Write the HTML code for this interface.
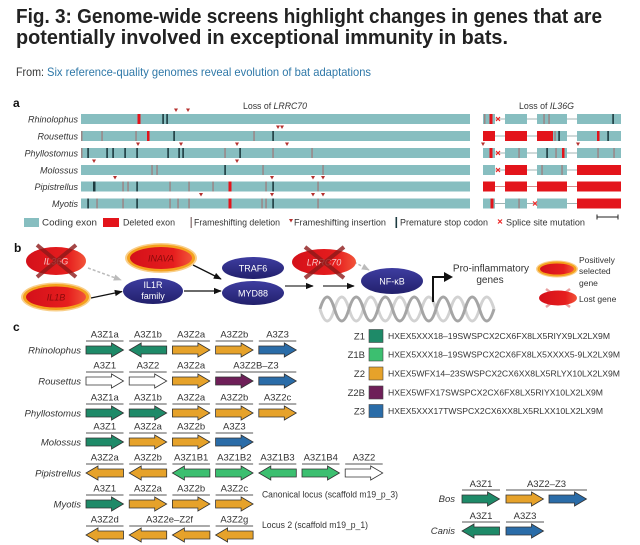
<!DOCTYPE html>
<html><head><meta charset="utf-8"><style>
html,body{margin:0;padding:0;background:#fff;}
svg{display:block;}
text{font-family:"Liberation Sans",Arial,sans-serif;}
</style></head><body>
<svg width="640" height="545" viewBox="0 0 640 545" xmlns="http://www.w3.org/2000/svg">
<defs>
<linearGradient id="rg" x1="0" x2="1" y1="0" y2="0"><stop offset="0" stop-color="#d4101a"/><stop offset="0.7" stop-color="#e61e1e"/><stop offset="1" stop-color="#f2553a"/></linearGradient>
<linearGradient id="bg" x1="0" y1="0" x2="0" y2="1"><stop offset="0" stop-color="#3e3da0"/><stop offset="1" stop-color="#22206c"/></linearGradient>
<marker id="mk" viewBox="0 0 10 10" refX="9" refY="5" markerWidth="8" markerHeight="8" orient="auto" markerUnits="userSpaceOnUse"><path d="M0,1L10,5L0,9Z" fill="#111"/></marker>
<marker id="mg" viewBox="0 0 10 10" refX="9" refY="5" markerWidth="8" markerHeight="8" orient="auto" markerUnits="userSpaceOnUse"><path d="M0,1L10,5L0,9Z" fill="#bbb"/></marker>
<path id="ar" d="M0,-4H25.5V-7L37.5,0L25.5,7V4H0Z" stroke="#333" stroke-width="0.8"/>
<path id="al" d="M37.5,-4H12V-7L0,0L12,7V4H37.5Z" stroke="#333" stroke-width="0.8"/>
</defs>
<rect width="640" height="545" fill="#fff"/>

<!-- Title -->
<text x="16" y="23" font-size="20" font-weight="bold" fill="#222" textLength="586" lengthAdjust="spacingAndGlyphs">Fig. 3: Genome-wide screens highlight changes in genes that are</text>
<text x="16" y="44" font-size="20" font-weight="bold" fill="#222" textLength="492" lengthAdjust="spacingAndGlyphs">potentially involved in exceptional immunity in bats.</text>
<text x="16" y="76" font-size="12" fill="#333" textLength="28" lengthAdjust="spacingAndGlyphs">From:</text>
<text x="47" y="76" font-size="12" fill="#2f78a8" textLength="324" lengthAdjust="spacingAndGlyphs">Six reference-quality genomes reveal evolution of bat adaptations</text>

<!-- Panel a -->
<text x="13" y="107" font-size="12" font-weight="bold" fill="#111">a</text>
<text x="243" y="109" font-size="9" fill="#333" textLength="64" lengthAdjust="spacingAndGlyphs">Loss of <tspan font-style="italic">LRRC70</tspan></text>
<text x="519" y="109" font-size="9" fill="#333" textLength="55" lengthAdjust="spacingAndGlyphs">Loss of <tspan font-style="italic">IL36G</tspan></text>

<g font-size="9" font-style="italic" fill="#333" text-anchor="end">
<text x="78" y="122.5">Rhinolophus</text>
<text x="78" y="139.5">Rousettus</text>
<text x="78" y="156.5">Phyllostomus</text>
<text x="78" y="173.5">Molossus</text>
<text x="78" y="190">Pipistrellus</text>
<text x="78" y="207">Myotis</text>
</g>

<!-- LRRC70 bars -->
<g fill="#87bec0">
<rect x="81" y="114" width="389" height="10"/>
<rect x="81" y="131" width="389" height="10"/>
<rect x="81" y="148" width="389" height="10"/>
<rect x="81" y="165" width="389" height="10"/>
<rect x="81" y="181.5" width="389" height="10"/>
<rect x="81" y="198.5" width="389" height="10"/>
</g>
<!-- IL36G introns -->
<g stroke="#9fb3b3" stroke-width="1">
<line x1="495" y1="119" x2="577" y2="119"/>
<line x1="495" y1="136" x2="577" y2="136"/>
<line x1="495" y1="153" x2="577" y2="153"/>
<line x1="495" y1="170" x2="577" y2="170"/>
<line x1="495" y1="186.5" x2="577" y2="186.5" stroke="#d88"/>
<line x1="495" y1="203.5" x2="577" y2="203.5"/>
</g>
<!-- IL36G exons -->
<g>
<!-- row0 -->
<rect x="483" y="114" width="12" height="10" fill="#87bec0"/><rect x="505" y="114" width="22" height="10" fill="#87bec0"/><rect x="537" y="114" width="30" height="10" fill="#87bec0"/><rect x="577" y="114" width="44" height="10" fill="#87bec0"/>
<!-- row1 -->
<rect x="483" y="131" width="12" height="10" fill="#e3141b"/><rect x="505" y="131" width="22" height="10" fill="#e3141b"/><rect x="537" y="131" width="16" height="10" fill="#e3141b"/><rect x="553" y="131" width="14" height="10" fill="#87bec0"/><rect x="577" y="131" width="44" height="10" fill="#87bec0"/>
<!-- row2 -->
<rect x="483" y="148" width="12" height="10" fill="#87bec0"/><rect x="505" y="148" width="22" height="10" fill="#87bec0"/><rect x="537" y="148" width="30" height="10" fill="#87bec0"/><rect x="577" y="148" width="44" height="10" fill="#87bec0"/>
<!-- row3 -->
<rect x="483" y="165" width="12" height="10" fill="#87bec0"/><rect x="505" y="165" width="22" height="10" fill="#e3141b"/><rect x="537" y="165" width="30" height="10" fill="#87bec0"/><rect x="577" y="165" width="44" height="10" fill="#e3141b"/>
<!-- row4 -->
<rect x="483" y="181.5" width="12" height="10" fill="#e3141b"/><rect x="505" y="181.5" width="22" height="10" fill="#e3141b"/><rect x="537" y="181.5" width="30" height="10" fill="#e3141b"/><rect x="577" y="181.5" width="44" height="10" fill="#e3141b"/>
<!-- row5 -->
<rect x="483" y="198.5" width="12" height="10" fill="#87bec0"/><rect x="505" y="198.5" width="22" height="10" fill="#87bec0"/><rect x="537" y="198.5" width="30" height="10" fill="#87bec0"/><rect x="577" y="198.5" width="44" height="10" fill="#e3141b"/>
</g>

<!-- marks: gray frameshift deletions -->
<g fill="#9a8686">
<rect x="81" y="131" width="1.5" height="10"/><rect x="101.3" y="131" width="1.5" height="10"/><rect x="135.3" y="131" width="1.5" height="10"/><rect x="253.3" y="131" width="1.5" height="10"/>
<rect x="81" y="148" width="1.5" height="10"/><rect x="224.3" y="148" width="1.5" height="10"/><rect x="272.3" y="148" width="1.5" height="10"/><rect x="311.3" y="148" width="1.5" height="10"/>
<rect x="151.3" y="165" width="1.5" height="10"/><rect x="156.3" y="165" width="1.5" height="10"/><rect x="262.3" y="165" width="1.5" height="10"/><rect x="322.3" y="165" width="1.5" height="10"/>
<rect x="122.3" y="181.5" width="1.5" height="10"/><rect x="127.3" y="181.5" width="1.5" height="10"/><rect x="169.3" y="181.5" width="1.5" height="10"/><rect x="188.3" y="181.5" width="1.5" height="10"/><rect x="212.3" y="181.5" width="1.5" height="10"/><rect x="265.3" y="181.5" width="1.5" height="10"/><rect x="317.3" y="181.5" width="1.5" height="10"/>
<rect x="96.3" y="198.5" width="1.5" height="10"/><rect x="122.3" y="198.5" width="1.5" height="10"/><rect x="169.3" y="198.5" width="1.5" height="10"/><rect x="177.3" y="198.5" width="1.5" height="10"/><rect x="188.3" y="198.5" width="1.5" height="10"/><rect x="261.3" y="198.5" width="1.5" height="10"/><rect x="265.3" y="198.5" width="1.5" height="10"/><rect x="317.3" y="198.5" width="1.5" height="10"/>
<!-- IL36G gray -->
<rect x="484" y="114" width="1.5" height="10"/><rect x="543.3" y="114" width="1.5" height="10"/><rect x="548.3" y="114" width="1.5" height="10"/>
<rect x="554.3" y="131" width="1.5" height="10"/>
<rect x="518.3" y="148" width="1.5" height="10"/><rect x="555.3" y="148" width="1.5" height="10"/><rect x="597.3" y="148" width="1.5" height="10"/><rect x="613.3" y="148" width="1.5" height="10"/>
<rect x="541.3" y="165" width="1.5" height="10"/><rect x="561.3" y="165" width="1.5" height="10"/>
<rect x="518.3" y="198.5" width="1.5" height="10"/>
</g>
<!-- dark premature stops -->
<g fill="#1d3b40">
<rect x="162.3" y="114" width="1.6" height="10"/><rect x="166.3" y="114" width="1.6" height="10"/>
<rect x="173.3" y="131" width="1.6" height="10"/><rect x="272.3" y="131" width="1.6" height="10"/>
<rect x="87.3" y="148" width="1.6" height="10"/><rect x="106.3" y="148" width="1.6" height="10"/><rect x="112.3" y="148" width="1.6" height="10"/><rect x="124.3" y="148" width="1.6" height="10"/><rect x="136.3" y="148" width="1.6" height="10"/><rect x="167.3" y="148" width="1.6" height="10"/><rect x="178.3" y="148" width="1.6" height="10"/><rect x="182.3" y="148" width="1.6" height="10"/><rect x="239.3" y="148" width="1.6" height="10"/>
<rect x="224.3" y="165" width="1.6" height="10"/>
<rect x="93" y="181.5" width="2.5" height="10"/><rect x="136.3" y="181.5" width="1.6" height="10"/><rect x="272.3" y="181.5" width="1.6" height="10"/>
<rect x="87.3" y="198.5" width="1.6" height="10"/><rect x="136.3" y="198.5" width="1.6" height="10"/><rect x="272.3" y="198.5" width="1.6" height="10"/>
<rect x="612.3" y="114" width="1.6" height="10"/>
<rect x="558.3" y="131" width="1.6" height="10"/><rect x="607.3" y="131" width="1.6" height="10"/>
<rect x="546.3" y="148" width="1.6" height="10"/>
</g>
<!-- red deleted -->
<g fill="#e3141b">
<rect x="137.5" y="114" width="3" height="10"/>
<rect x="147" y="131" width="2.5" height="10"/>
<rect x="228.5" y="181.5" width="3" height="10"/>
<rect x="228.5" y="198.5" width="3" height="10"/>
<rect x="489.5" y="114" width="3" height="10"/>
<rect x="597" y="131" width="2.5" height="10"/>
<rect x="489.5" y="148" width="3" height="10"/><rect x="562" y="148" width="2.5" height="10"/>
<rect x="490.5" y="198.5" width="3" height="10"/>
</g>
<!-- insertion triangles -->
<g fill="#b5302e">
<path d="M174,108.5h4l-2,3.5z"/><path d="M186,108.5h4l-2,3.5z"/>
<path d="M276,125.5h4l-2,3.5z"/><path d="M280,125.5h4l-2,3.5z"/>
<path d="M136,142.5h4l-2,3.5z"/><path d="M179,142.5h4l-2,3.5z"/><path d="M235,142.5h4l-2,3.5z"/><path d="M285,142.5h4l-2,3.5z"/><path d="M481,142.5h4l-2,3.5z"/><path d="M576,142.5h4l-2,3.5z"/>
<path d="M92,159.5h4l-2,3.5z"/><path d="M235,159.5h4l-2,3.5z"/>
<path d="M113,176h4l-2,3.5z"/><path d="M270,176h4l-2,3.5z"/><path d="M311,176h4l-2,3.5z"/><path d="M321,176h4l-2,3.5z"/>
<path d="M199,193h4l-2,3.5z"/><path d="M270,193h4l-2,3.5z"/><path d="M311,193h4l-2,3.5z"/><path d="M321,193h4l-2,3.5z"/>
</g>
<!-- splice site x -->
<g stroke="#e22" stroke-width="1.2">
<path d="M496,117l4,4M500,117l-4,4"/>
<path d="M496,151l4,4M500,151l-4,4"/>
<path d="M496,168l4,4M500,168l-4,4"/>
<path d="M533,201.5l4,4M537,201.5l-4,4"/>
</g>
<!-- legend a -->
<rect x="24" y="218" width="15" height="9" fill="#87bec0"/>
<text x="42" y="225.5" font-size="9.5" fill="#333" textLength="55" lengthAdjust="spacingAndGlyphs">Coding exon</text>
<rect x="103" y="218" width="16" height="9" fill="#e3141b"/>
<text x="123" y="225.5" font-size="9.5" fill="#333" textLength="52" lengthAdjust="spacingAndGlyphs">Deleted exon</text>
<rect x="190.5" y="217" width="1.5" height="11" fill="#9a8686"/>
<text x="194" y="225.5" font-size="9.5" fill="#333" textLength="86" lengthAdjust="spacingAndGlyphs">Frameshifting deletion</text>
<path d="M289,219h4l-2,3.5z" fill="#b5302e"/>
<text x="294" y="225.5" font-size="9.5" fill="#333" textLength="92" lengthAdjust="spacingAndGlyphs">Frameshifting insertion</text>
<rect x="395.5" y="217" width="1.6" height="11" fill="#1d3b40"/>
<text x="400" y="225.5" font-size="9.5" fill="#333" textLength="88" lengthAdjust="spacingAndGlyphs">Premature stop codon</text>
<path d="M498,219.5l4,4M502,219.5l-4,4" stroke="#e22" stroke-width="1.2"/>
<text x="506" y="225.5" font-size="9.5" fill="#333" textLength="79" lengthAdjust="spacingAndGlyphs">Splice site mutation</text>
<path d="M597,217H618M597,214.5V219.5M618,214.5V219.5" stroke="#222" stroke-width="1"/>

<!-- Panel b -->
<text x="14" y="252" font-size="12" font-weight="bold" fill="#111">b</text>
<!-- DNA helix -->
<path d="M320,309q7.25,24 14.5,0t14.5,0t14.5,0t14.5,0t14.5,0t14.5,0t14.5,0t14.5,0t14.5,0t14.5,0t14.5,0t14.5,0" fill="none" stroke="#d2d2d2" stroke-width="3"/>
<path d="M320,309q7.25,-24 14.5,0t14.5,0t14.5,0t14.5,0t14.5,0t14.5,0t14.5,0t14.5,0t14.5,0t14.5,0t14.5,0t14.5,0" fill="none" stroke="#a5a5a5" stroke-width="3"/>
<!-- arrows -->
<line x1="88" y1="268" x2="121" y2="280" stroke="#bbb" stroke-width="1.5" stroke-dasharray="3,2" marker-end="url(#mg)"/>
<line x1="91" y1="298" x2="122" y2="291.5" stroke="#111" stroke-width="1.3" marker-end="url(#mk)"/>
<line x1="193" y1="265" x2="221" y2="279" stroke="#111" stroke-width="1.3" marker-end="url(#mk)"/>
<line x1="184" y1="291" x2="221" y2="291" stroke="#111" stroke-width="1.3" marker-end="url(#mk)"/>
<line x1="285" y1="286" x2="313" y2="286" stroke="#333" stroke-width="1.3" marker-end="url(#mk)"/>
<line x1="323" y1="286" x2="354" y2="286" stroke="#333" stroke-width="1.3" marker-end="url(#mk)"/>
<line x1="354" y1="262" x2="369" y2="270" stroke="#bbb" stroke-width="1.5" stroke-dasharray="3,2" marker-end="url(#mg)"/>
<!-- IL36G lost -->
<ellipse cx="56" cy="261" rx="30" ry="14" fill="url(#rg)"/>
<text x="56" y="264.5" font-size="9" font-style="italic" fill="#f8c8c8" text-anchor="middle">IL36G</text>
<path d="M37,245L76,277M76,245L37,277" stroke="#8e1a1a" stroke-width="4" opacity="0.8"/>
<!-- IL1B -->
<ellipse cx="56" cy="297" rx="35" ry="14.5" fill="#f9cf8a"/>
<ellipse cx="56" cy="297" rx="33" ry="13" fill="#f4a11d"/>
<ellipse cx="56" cy="297" rx="30" ry="10.5" fill="url(#rg)"/>
<text x="56" y="300.5" font-size="9" font-style="italic" fill="#8a0a0a" text-anchor="middle">IL1B</text>
<!-- INAVA -->
<ellipse cx="161" cy="258" rx="36" ry="15" fill="#f9cf8a"/>
<ellipse cx="161" cy="258" rx="34" ry="13.5" fill="#f4a11d"/>
<ellipse cx="161" cy="258" rx="31" ry="11" fill="url(#rg)"/>
<text x="161" y="261.5" font-size="9" font-style="italic" fill="#8a0a0a" text-anchor="middle">INAVA</text>
<!-- blue -->
<ellipse cx="153" cy="291" rx="30" ry="13" fill="url(#bg)"/>
<text x="153" y="288" font-size="9" fill="#fff" text-anchor="middle">IL1R</text>
<text x="153" y="299" font-size="9" fill="#fff" text-anchor="middle">family</text>
<ellipse cx="253" cy="268" rx="31" ry="11" fill="url(#bg)"/>
<text x="253" y="271.5" font-size="9" fill="#fff" text-anchor="middle">TRAF6</text>
<ellipse cx="253" cy="293" rx="31" ry="12" fill="url(#bg)"/>
<text x="253" y="296.5" font-size="9" fill="#fff" text-anchor="middle">MYD88</text>
<!-- LRRC70 lost -->
<ellipse cx="324" cy="262" rx="32" ry="13" fill="url(#rg)"/>
<text x="324" y="265.5" font-size="9" font-style="italic" fill="#f8c8c8" text-anchor="middle">LRRC70</text>
<path d="M305,247L344,278M344,247L305,278" stroke="#8e1a1a" stroke-width="4" opacity="0.8"/>
<!-- NF-kB -->
<ellipse cx="392" cy="281" rx="31" ry="13" fill="url(#bg)"/>
<text x="392" y="284.5" font-size="9" fill="#fff" text-anchor="middle">NF-κB</text>
<!-- bent arrow -->
<path d="M433,302V277H445" fill="none" stroke="#111" stroke-width="2"/>
<path d="M444,272L453,277L444,282Z" fill="#111"/>
<text x="491" y="271.5" font-size="10" fill="#333" text-anchor="middle">Pro-inflammatory</text>
<text x="490" y="283" font-size="10" fill="#333" text-anchor="middle">genes</text>
<!-- legend b -->
<ellipse cx="557" cy="269" rx="21" ry="8.5" fill="#f9cf8a"/>
<ellipse cx="557" cy="269" rx="19.5" ry="7.5" fill="#f4a11d"/>
<ellipse cx="557" cy="269" rx="17" ry="5.5" fill="url(#rg)"/>
<text x="579" y="263" font-size="8.5" fill="#333">Positively</text>
<text x="579" y="274" font-size="8.5" fill="#333">selected</text>
<text x="579" y="286" font-size="8.5" fill="#333">gene</text>
<path d="M546,289L570,307M570,289L546,307" stroke="#e9a0a0" stroke-width="2.5"/>
<ellipse cx="558" cy="298" rx="19" ry="7.5" fill="url(#rg)"/>
<text x="579" y="302" font-size="8.5" fill="#333">Lost gene</text>

<!-- Panel c -->
<text x="13" y="331" font-size="12" font-weight="bold" fill="#111">c</text>
<g font-size="9.5" font-style="italic" fill="#333" text-anchor="end">
<text x="81" y="353.5">Rhinolophus</text>
<text x="81" y="384.5">Rousettus</text>
<text x="81" y="416.5">Phyllostomus</text>
<text x="81" y="445.5">Molossus</text>
<text x="81" y="476.5">Pipistrellus</text>
<text x="81" y="507.5">Myotis</text>
<text x="455" y="502">Bos</text>
<text x="455" y="534">Canis</text>
</g>

<!-- overlines -->
<g stroke="#555" stroke-width="1">
<path d="M86,341h37.5M129.2,341h37.5M172.4,341h37.5M215.6,341h37.5M258.8,341h37.5"/>
<path d="M86,372h37.5M129.2,372h37.5M172.4,372h37.5M215.6,372h80.7"/>
<path d="M86,404h37.5M129.2,404h37.5M172.4,404h37.5M215.6,404h37.5M258.8,404h37.5"/>
<path d="M86,433h37.5M129.2,433h37.5M172.4,433h37.5M215.6,433h37.5"/>
<path d="M86,464h37.5M129.2,464h37.5M172.4,464h37.5M215.6,464h37.5M258.8,464h37.5M302,464h37.5M345.2,464h37.5"/>
<path d="M86,495h37.5M129.2,495h37.5M172.4,495h37.5M215.6,495h37.5"/>
<path d="M86,526h37.5M129.2,526h80.7M215.6,526h37.5"/>
<path d="M462,490h38M506,490h81"/>
<path d="M462,522h38M506,522h38"/>
</g>

<!-- gene labels -->
<g font-size="9.5" fill="#333" text-anchor="middle">
<text x="104.75" y="337.5">A3Z1a</text><text x="147.95" y="337.5">A3Z1b</text><text x="191.15" y="337.5">A3Z2a</text><text x="234.35" y="337.5">A3Z2b</text><text x="277.55" y="337.5">A3Z3</text>
<text x="104.75" y="368.5">A3Z1</text><text x="147.95" y="368.5">A3Z2</text><text x="191.15" y="368.5">A3Z2a</text><text x="255.95" y="368.5">A3Z2B–Z3</text>
<text x="104.75" y="400.5">A3Z1a</text><text x="147.95" y="400.5">A3Z1b</text><text x="191.15" y="400.5">A3Z2a</text><text x="234.35" y="400.5">A3Z2b</text><text x="277.55" y="400.5">A3Z2c</text>
<text x="104.75" y="429.5">A3Z1</text><text x="147.95" y="429.5">A3Z2a</text><text x="191.15" y="429.5">A3Z2b</text><text x="234.35" y="429.5">A3Z3</text>
<text x="104.75" y="460.5">A3Z2a</text><text x="147.95" y="460.5">A3Z2b</text><text x="191.15" y="460.5">A3Z1B1</text><text x="234.35" y="460.5">A3Z1B2</text><text x="277.55" y="460.5">A3Z1B3</text><text x="320.75" y="460.5">A3Z1B4</text><text x="363.95" y="460.5">A3Z2</text>
<text x="104.75" y="491.5">A3Z1</text><text x="147.95" y="491.5">A3Z2a</text><text x="191.15" y="491.5">A3Z2b</text><text x="234.35" y="491.5">A3Z2c</text>
<text x="104.75" y="522.5">A3Z2d</text><text x="169.55" y="522.5">A3Z2e–Z2f</text><text x="234.35" y="522.5">A3Z2g</text>
<text x="481" y="487">A3Z1</text><text x="546.5" y="487">A3Z2–Z3</text>
<text x="481" y="519">A3Z1</text><text x="525" y="519">A3Z3</text>
</g>
<text x="262" y="497.5" font-size="9" fill="#333" textLength="136" lengthAdjust="spacingAndGlyphs">Canonical locus (scaffold m19_p_3)</text>
<text x="262" y="528" font-size="9" fill="#333" textLength="106" lengthAdjust="spacingAndGlyphs">Locus 2 (scaffold m19_p_1)</text>

<!-- arrows -->
<!-- Rhinolophus c=350 -->
<use href="#ar" x="86" y="350" fill="#1e8a68"/>
<use href="#al" x="129.2" y="350" fill="#1e8a68"/>
<use href="#ar" x="172.4" y="350" fill="#e6a22a"/>
<use href="#ar" x="215.6" y="350" fill="#e6a22a"/>
<use href="#ar" x="258.8" y="350" fill="#2a6ca8"/>
<!-- Rousettus c=381 -->
<use href="#ar" x="86" y="381" fill="#fff"/>
<use href="#ar" x="129.2" y="381" fill="#fff"/>
<use href="#ar" x="172.4" y="381" fill="#e6a22a"/>
<use href="#ar" x="215.6" y="381" fill="#6e1f58"/>
<use href="#ar" x="258.8" y="381" fill="#2a6ca8"/>
<!-- Phyllostomus c=413 -->
<use href="#ar" x="86" y="413" fill="#1e8a68"/>
<use href="#ar" x="129.2" y="413" fill="#1e8a68"/>
<use href="#ar" x="172.4" y="413" fill="#e6a22a"/>
<use href="#ar" x="215.6" y="413" fill="#e6a22a"/>
<use href="#ar" x="258.8" y="413" fill="#e6a22a"/>
<!-- Molossus c=442 -->
<use href="#ar" x="86" y="442" fill="#1e8a68"/>
<use href="#ar" x="129.2" y="442" fill="#e6a22a"/>
<use href="#ar" x="172.4" y="442" fill="#e6a22a"/>
<use href="#ar" x="215.6" y="442" fill="#2a6ca8"/>
<!-- Pipistrellus c=473 -->
<use href="#al" x="86" y="473" fill="#e6a22a"/>
<use href="#al" x="129.2" y="473" fill="#e6a22a"/>
<use href="#al" x="172.4" y="473" fill="#3cbf70"/>
<use href="#ar" x="215.6" y="473" fill="#3cbf70"/>
<use href="#al" x="258.8" y="473" fill="#3cbf70"/>
<use href="#ar" x="302" y="473" fill="#3cbf70"/>
<use href="#ar" x="345.2" y="473" fill="#fff"/>
<!-- Myotis c=504 -->
<use href="#ar" x="86" y="504" fill="#1e8a68"/>
<use href="#ar" x="129.2" y="504" fill="#e6a22a"/>
<use href="#ar" x="172.4" y="504" fill="#e6a22a"/>
<use href="#ar" x="215.6" y="504" fill="#e6a22a"/>
<!-- Locus 2 c=535 -->
<use href="#al" x="86" y="535" fill="#e6a22a"/>
<use href="#al" x="129.2" y="535" fill="#e6a22a"/>
<use href="#al" x="172.4" y="535" fill="#e6a22a"/>
<use href="#al" x="215.6" y="535" fill="#e6a22a"/>
<!-- Bos c=499 -->
<use href="#ar" x="462" y="499" fill="#1e8a68"/>
<use href="#ar" x="506" y="499" fill="#e6a22a"/>
<use href="#ar" x="549" y="499" fill="#2a6ca8"/>
<!-- Canis c=531 -->
<use href="#al" x="462" y="531" fill="#1e8a68"/>
<use href="#ar" x="506" y="531" fill="#2a6ca8"/>

<!-- right legend -->
<g font-size="9.5" fill="#333" text-anchor="end">
<text x="365" y="339.5">Z1</text>
<text x="365" y="358">Z1B</text>
<text x="365" y="377">Z2</text>
<text x="365" y="396">Z2B</text>
<text x="365" y="414.5">Z3</text>
</g>
<g stroke="#444" stroke-width="0.6">
<rect x="369" y="329.5" width="14" height="13" fill="#1e8a68"/>
<rect x="369" y="348" width="14" height="13" fill="#3cbf70"/>
<rect x="369" y="367" width="14" height="13" fill="#e6a22a"/>
<rect x="369" y="386" width="14" height="13" fill="#6e1f58"/>
<rect x="369" y="404.5" width="14" height="13" fill="#2a6ca8"/>
</g>
<g font-size="8.5" fill="#333">
<text x="388" y="339" textLength="222" lengthAdjust="spacingAndGlyphs">HXEX5XXX18–19SWSPCX2CX6FX8LX5RIYX9LX2LX9M</text>
<text x="388" y="357.5" textLength="232" lengthAdjust="spacingAndGlyphs">HXEX5XXX18–19SWSPCX2CX6FX8LX5XXXX5-9LX2LX9M</text>
<text x="388" y="376.5" textLength="232" lengthAdjust="spacingAndGlyphs">HXEX5WFX14–23SWSPCX2CX6XX8LX5RLYX10LX2LX9M</text>
<text x="388" y="395.5" textLength="215" lengthAdjust="spacingAndGlyphs">HXEX5WFX17SWSPCX2CX6FX8LX5RIYX10LX2LX9M</text>
<text x="388" y="414" textLength="215" lengthAdjust="spacingAndGlyphs">HXEX5XXX17TWSPCX2CX6XX8LX5RLXX10LX2LX9M</text>
</g>
</svg>
</body></html>
